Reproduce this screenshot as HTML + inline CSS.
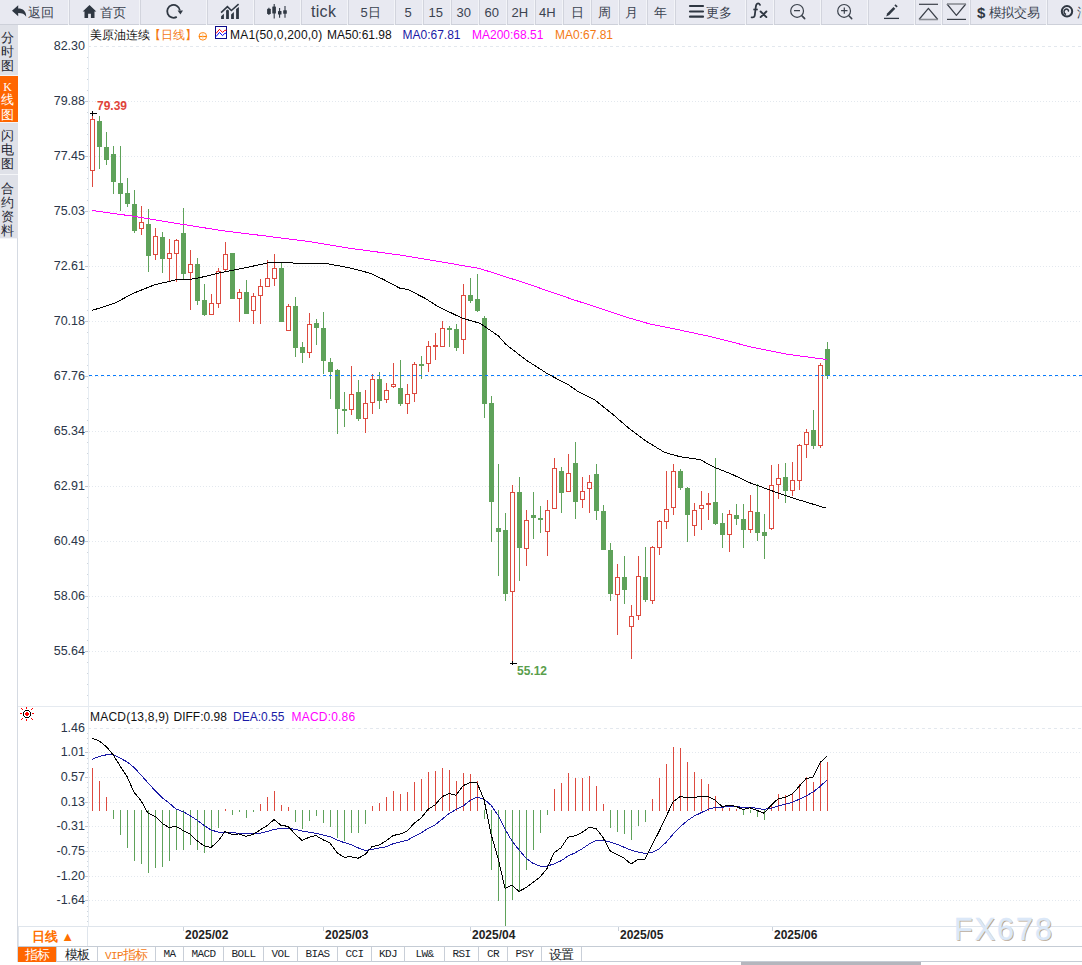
<!DOCTYPE html>
<html><head><meta charset="utf-8">
<style>
*{margin:0;padding:0;box-sizing:border-box}
html,body{width:1082px;height:965px;overflow:hidden;background:#fff;font-family:"Liberation Sans",sans-serif;font-size:12px;color:#222;position:relative}
#tb{position:absolute;left:0;top:0;width:1082px;height:25px}#tb span{position:absolute;top:4.5px;font-size:13px;line-height:15px;color:#3b4350;white-space:nowrap}
.b{position:absolute;top:0;height:24px;border-right:1px solid #d2d6de;box-shadow:1px 0 0 #f8f9fb;text-align:center;line-height:24px;font-size:13px;color:#3b4350;white-space:nowrap}
.b svg{vertical-align:middle}
#sb{position:absolute;left:0;top:25px;width:18px}
.s{width:18px;background:#dfe1e8;color:#1f2733;padding-right:3px;font-size:12.5px;line-height:14.3px;text-align:center;border-bottom:1px solid #f4f5f8}
#vl{position:absolute;left:17px;top:238px;width:1px;height:724px;background:#d5dae2}
svg#ch{position:absolute;left:0;top:0}
.ax{font-size:12.5px;fill:#2a3548}
.hl{font-size:12px;font-weight:bold}
.dt{font-size:12px;font-weight:bold;fill:#222}
.wm{font-size:30.5px;letter-spacing:2px}
.lg{font-size:12px}
#leg{position:absolute;left:90px;top:27px;height:16px;font-size:12px;line-height:16px;white-space:nowrap;color:#111}#leg span{position:absolute;top:0}
#tabs{position:absolute;left:18px;top:946px;width:1064px;height:16px;border-top:1px solid #c5ccd5;border-bottom:1px solid #c5ccd5}
.t{position:absolute;top:0;height:15px;border-right:1px solid #c9cfd8;text-align:center;font-family:"Liberation Mono",monospace;font-size:11px;line-height:15px;color:#1a1f2a;letter-spacing:-0.6px}
#dbx{position:absolute;left:18px;top:926px;width:70px;height:20px;border:1px solid #dfe5ec;border-bottom:none;color:#ff7000;font-weight:bold;font-size:13px;text-align:center;line-height:19px}
#scr{position:absolute;left:741px;top:962px;width:180px;height:3px;background:#b4b6bd}
</style></head><body>
<svg id="ch" width="1082" height="965" style="font-family:'Liberation Sans',sans-serif">
<line x1="88" y1="46.5" x2="1082" y2="46.5" stroke="#e3e8ee" stroke-dasharray="3 3"/>
<text x="85" y="50" class="ax" text-anchor="end">82.30</text>
<line x1="89" y1="101.5" x2="1082" y2="101.5" stroke="#e3e8ee" stroke-dasharray="1 2"/>
<rect x="85" y="101" width="3" height="1" fill="#c3c8d0"/>
<text x="85" y="105" class="ax" text-anchor="end">79.88</text>
<line x1="89" y1="156.5" x2="1082" y2="156.5" stroke="#e3e8ee" stroke-dasharray="1 2"/>
<rect x="85" y="156" width="3" height="1" fill="#c3c8d0"/>
<text x="85" y="160" class="ax" text-anchor="end">77.45</text>
<line x1="89" y1="211.5" x2="1082" y2="211.5" stroke="#e3e8ee" stroke-dasharray="1 2"/>
<rect x="85" y="211" width="3" height="1" fill="#c3c8d0"/>
<text x="85" y="215" class="ax" text-anchor="end">75.03</text>
<line x1="89" y1="266.5" x2="1082" y2="266.5" stroke="#e3e8ee" stroke-dasharray="1 2"/>
<rect x="85" y="266" width="3" height="1" fill="#c3c8d0"/>
<text x="85" y="270" class="ax" text-anchor="end">72.61</text>
<line x1="89" y1="321.5" x2="1082" y2="321.5" stroke="#e3e8ee" stroke-dasharray="1 2"/>
<rect x="85" y="321" width="3" height="1" fill="#c3c8d0"/>
<text x="85" y="325" class="ax" text-anchor="end">70.18</text>
<line x1="89" y1="376.5" x2="1082" y2="376.5" stroke="#e3e8ee" stroke-dasharray="1 2"/>
<rect x="85" y="376" width="3" height="1" fill="#c3c8d0"/>
<text x="85" y="380" class="ax" text-anchor="end">67.76</text>
<line x1="89" y1="431.5" x2="1082" y2="431.5" stroke="#e3e8ee" stroke-dasharray="1 2"/>
<rect x="85" y="431" width="3" height="1" fill="#c3c8d0"/>
<text x="85" y="435" class="ax" text-anchor="end">65.34</text>
<line x1="89" y1="486.5" x2="1082" y2="486.5" stroke="#e3e8ee" stroke-dasharray="1 2"/>
<rect x="85" y="486" width="3" height="1" fill="#c3c8d0"/>
<text x="85" y="490" class="ax" text-anchor="end">62.91</text>
<line x1="89" y1="541.5" x2="1082" y2="541.5" stroke="#e3e8ee" stroke-dasharray="1 2"/>
<rect x="85" y="541" width="3" height="1" fill="#c3c8d0"/>
<text x="85" y="545" class="ax" text-anchor="end">60.49</text>
<line x1="89" y1="596.5" x2="1082" y2="596.5" stroke="#e3e8ee" stroke-dasharray="1 2"/>
<rect x="85" y="596" width="3" height="1" fill="#c3c8d0"/>
<text x="85" y="600" class="ax" text-anchor="end">58.06</text>
<line x1="89" y1="651.5" x2="1082" y2="651.5" stroke="#e3e8ee" stroke-dasharray="1 2"/>
<rect x="85" y="651" width="3" height="1" fill="#c3c8d0"/>
<text x="85" y="655" class="ax" text-anchor="end">55.64</text>
<rect x="87" y="57" width="1" height="1" fill="#cfd5dc"/>
<rect x="87" y="68" width="1" height="1" fill="#cfd5dc"/>
<rect x="87" y="79" width="1" height="1" fill="#cfd5dc"/>
<rect x="87" y="90" width="1" height="1" fill="#cfd5dc"/>
<rect x="87" y="112" width="1" height="1" fill="#cfd5dc"/>
<rect x="87" y="123" width="1" height="1" fill="#cfd5dc"/>
<rect x="87" y="134" width="1" height="1" fill="#cfd5dc"/>
<rect x="87" y="145" width="1" height="1" fill="#cfd5dc"/>
<rect x="87" y="167" width="1" height="1" fill="#cfd5dc"/>
<rect x="87" y="178" width="1" height="1" fill="#cfd5dc"/>
<rect x="87" y="189" width="1" height="1" fill="#cfd5dc"/>
<rect x="87" y="200" width="1" height="1" fill="#cfd5dc"/>
<rect x="87" y="222" width="1" height="1" fill="#cfd5dc"/>
<rect x="87" y="233" width="1" height="1" fill="#cfd5dc"/>
<rect x="87" y="244" width="1" height="1" fill="#cfd5dc"/>
<rect x="87" y="255" width="1" height="1" fill="#cfd5dc"/>
<rect x="87" y="277" width="1" height="1" fill="#cfd5dc"/>
<rect x="87" y="288" width="1" height="1" fill="#cfd5dc"/>
<rect x="87" y="299" width="1" height="1" fill="#cfd5dc"/>
<rect x="87" y="310" width="1" height="1" fill="#cfd5dc"/>
<rect x="87" y="332" width="1" height="1" fill="#cfd5dc"/>
<rect x="87" y="343" width="1" height="1" fill="#cfd5dc"/>
<rect x="87" y="354" width="1" height="1" fill="#cfd5dc"/>
<rect x="87" y="365" width="1" height="1" fill="#cfd5dc"/>
<rect x="87" y="387" width="1" height="1" fill="#cfd5dc"/>
<rect x="87" y="398" width="1" height="1" fill="#cfd5dc"/>
<rect x="87" y="409" width="1" height="1" fill="#cfd5dc"/>
<rect x="87" y="420" width="1" height="1" fill="#cfd5dc"/>
<rect x="87" y="442" width="1" height="1" fill="#cfd5dc"/>
<rect x="87" y="453" width="1" height="1" fill="#cfd5dc"/>
<rect x="87" y="464" width="1" height="1" fill="#cfd5dc"/>
<rect x="87" y="475" width="1" height="1" fill="#cfd5dc"/>
<rect x="87" y="497" width="1" height="1" fill="#cfd5dc"/>
<rect x="87" y="508" width="1" height="1" fill="#cfd5dc"/>
<rect x="87" y="519" width="1" height="1" fill="#cfd5dc"/>
<rect x="87" y="530" width="1" height="1" fill="#cfd5dc"/>
<rect x="87" y="552" width="1" height="1" fill="#cfd5dc"/>
<rect x="87" y="563" width="1" height="1" fill="#cfd5dc"/>
<rect x="87" y="574" width="1" height="1" fill="#cfd5dc"/>
<rect x="87" y="585" width="1" height="1" fill="#cfd5dc"/>
<rect x="87" y="607" width="1" height="1" fill="#cfd5dc"/>
<rect x="87" y="618" width="1" height="1" fill="#cfd5dc"/>
<rect x="87" y="629" width="1" height="1" fill="#cfd5dc"/>
<rect x="87" y="640" width="1" height="1" fill="#cfd5dc"/>
<rect x="87" y="662" width="1" height="1" fill="#cfd5dc"/>
<rect x="87" y="673" width="1" height="1" fill="#cfd5dc"/>
<rect x="87" y="684" width="1" height="1" fill="#cfd5dc"/>
<rect x="87" y="695" width="1" height="1" fill="#cfd5dc"/>
<rect x="88" y="25" width="1" height="901" fill="#e6ecf2"/>
<line x1="88" y1="728.5" x2="1082" y2="728.5" stroke="#e3e8ee" stroke-dasharray="3 3"/>
<text x="85" y="732" class="ax" text-anchor="end">1.46</text>
<line x1="89" y1="752.5" x2="1082" y2="752.5" stroke="#e3e8ee" stroke-dasharray="1 2"/>
<rect x="85" y="752" width="3" height="1" fill="#c3c8d0"/>
<text x="85" y="756" class="ax" text-anchor="end">1.01</text>
<line x1="89" y1="777.5" x2="1082" y2="777.5" stroke="#e3e8ee" stroke-dasharray="1 2"/>
<rect x="85" y="777" width="3" height="1" fill="#c3c8d0"/>
<text x="85" y="781" class="ax" text-anchor="end">0.57</text>
<line x1="89" y1="802.5" x2="1082" y2="802.5" stroke="#e3e8ee" stroke-dasharray="1 2"/>
<rect x="85" y="802" width="3" height="1" fill="#c3c8d0"/>
<text x="85" y="806" class="ax" text-anchor="end">0.13</text>
<line x1="89" y1="826.5" x2="1082" y2="826.5" stroke="#e3e8ee" stroke-dasharray="1 2"/>
<rect x="85" y="826" width="3" height="1" fill="#c3c8d0"/>
<text x="85" y="830" class="ax" text-anchor="end">-0.31</text>
<line x1="89" y1="851.5" x2="1082" y2="851.5" stroke="#e3e8ee" stroke-dasharray="1 2"/>
<rect x="85" y="851" width="3" height="1" fill="#c3c8d0"/>
<text x="85" y="855" class="ax" text-anchor="end">-0.75</text>
<line x1="89" y1="876.5" x2="1082" y2="876.5" stroke="#e3e8ee" stroke-dasharray="1 2"/>
<rect x="85" y="876" width="3" height="1" fill="#c3c8d0"/>
<text x="85" y="880" class="ax" text-anchor="end">-1.20</text>
<line x1="89" y1="900.5" x2="1082" y2="900.5" stroke="#e3e8ee" stroke-dasharray="1 2"/>
<rect x="85" y="900" width="3" height="1" fill="#c3c8d0"/>
<text x="85" y="904" class="ax" text-anchor="end">-1.64</text>
<rect x="87" y="733" width="1" height="1" fill="#cfd5dc"/>
<rect x="87" y="738" width="1" height="1" fill="#cfd5dc"/>
<rect x="87" y="743" width="1" height="1" fill="#cfd5dc"/>
<rect x="87" y="748" width="1" height="1" fill="#cfd5dc"/>
<rect x="87" y="758" width="1" height="1" fill="#cfd5dc"/>
<rect x="87" y="763" width="1" height="1" fill="#cfd5dc"/>
<rect x="87" y="768" width="1" height="1" fill="#cfd5dc"/>
<rect x="87" y="772" width="1" height="1" fill="#cfd5dc"/>
<rect x="87" y="782" width="1" height="1" fill="#cfd5dc"/>
<rect x="87" y="787" width="1" height="1" fill="#cfd5dc"/>
<rect x="87" y="792" width="1" height="1" fill="#cfd5dc"/>
<rect x="87" y="797" width="1" height="1" fill="#cfd5dc"/>
<rect x="87" y="807" width="1" height="1" fill="#cfd5dc"/>
<rect x="87" y="812" width="1" height="1" fill="#cfd5dc"/>
<rect x="87" y="817" width="1" height="1" fill="#cfd5dc"/>
<rect x="87" y="822" width="1" height="1" fill="#cfd5dc"/>
<rect x="87" y="832" width="1" height="1" fill="#cfd5dc"/>
<rect x="87" y="837" width="1" height="1" fill="#cfd5dc"/>
<rect x="87" y="842" width="1" height="1" fill="#cfd5dc"/>
<rect x="87" y="847" width="1" height="1" fill="#cfd5dc"/>
<rect x="87" y="856" width="1" height="1" fill="#cfd5dc"/>
<rect x="87" y="861" width="1" height="1" fill="#cfd5dc"/>
<rect x="87" y="866" width="1" height="1" fill="#cfd5dc"/>
<rect x="87" y="871" width="1" height="1" fill="#cfd5dc"/>
<rect x="87" y="881" width="1" height="1" fill="#cfd5dc"/>
<rect x="87" y="886" width="1" height="1" fill="#cfd5dc"/>
<rect x="87" y="891" width="1" height="1" fill="#cfd5dc"/>
<rect x="87" y="896" width="1" height="1" fill="#cfd5dc"/>
<rect x="87" y="906" width="1" height="1" fill="#cfd5dc"/>
<rect x="87" y="911" width="1" height="1" fill="#cfd5dc"/>
<rect x="87" y="916" width="1" height="1" fill="#cfd5dc"/>
<rect x="87" y="921" width="1" height="1" fill="#cfd5dc"/>
<rect x="18" y="706" width="1064" height="1" fill="#e5eaf0"/>
<rect x="18" y="926" width="1064" height="1" fill="#dfe5ec"/>
<g shape-rendering="crispEdges"><rect x="92" y="113" width="1" height="6" fill="#dd4a3f"/><rect x="92" y="171" width="1" height="16" fill="#dd4a3f"/><rect x="90.5" y="119.5" width="4" height="51" fill="#fff" stroke="#dd4a3f"/><rect x="99" y="116" width="1" height="53" fill="#5fa25a"/><rect x="97" y="121" width="5" height="26" fill="#5fa25a"/><rect x="106" y="132" width="1" height="33" fill="#5fa25a"/><rect x="104" y="147" width="5" height="13" fill="#5fa25a"/><rect x="113" y="146" width="1" height="48" fill="#5fa25a"/><rect x="111" y="154" width="5" height="28" fill="#5fa25a"/><rect x="120" y="146" width="1" height="65" fill="#5fa25a"/><rect x="118" y="183" width="5" height="11" fill="#5fa25a"/><rect x="127" y="178" width="1" height="29" fill="#5fa25a"/><rect x="125" y="193" width="5" height="11" fill="#5fa25a"/><rect x="134" y="190" width="1" height="43" fill="#5fa25a"/><rect x="132" y="204" width="5" height="27" fill="#5fa25a"/><rect x="141" y="206" width="1" height="16" fill="#dd4a3f"/><rect x="141" y="229" width="1" height="6" fill="#dd4a3f"/><rect x="139.5" y="222.5" width="4" height="6" fill="#fff" stroke="#dd4a3f"/><rect x="148" y="209" width="1" height="63" fill="#5fa25a"/><rect x="146" y="224" width="5" height="32" fill="#5fa25a"/><rect x="155" y="228" width="1" height="8" fill="#dd4a3f"/><rect x="155" y="255" width="1" height="5" fill="#dd4a3f"/><rect x="153.5" y="236.5" width="4" height="18" fill="#fff" stroke="#dd4a3f"/><rect x="162" y="232" width="1" height="41" fill="#5fa25a"/><rect x="160" y="237" width="5" height="22" fill="#5fa25a"/><rect x="169" y="239" width="1" height="14" fill="#dd4a3f"/><rect x="169" y="259" width="1" height="22" fill="#dd4a3f"/><rect x="167.5" y="253.5" width="4" height="5" fill="#fff" stroke="#dd4a3f"/><rect x="176" y="239" width="1" height="1" fill="#dd4a3f"/><rect x="176" y="254" width="1" height="28" fill="#dd4a3f"/><rect x="174.5" y="240.5" width="4" height="13" fill="#fff" stroke="#dd4a3f"/><rect x="183" y="208" width="1" height="71" fill="#5fa25a"/><rect x="181" y="233" width="5" height="41" fill="#5fa25a"/><rect x="190" y="250" width="1" height="14" fill="#dd4a3f"/><rect x="190" y="273" width="1" height="37" fill="#dd4a3f"/><rect x="188.5" y="264.5" width="4" height="8" fill="#fff" stroke="#dd4a3f"/><rect x="197" y="258" width="1" height="47" fill="#5fa25a"/><rect x="195" y="264" width="5" height="37" fill="#5fa25a"/><rect x="204" y="284" width="1" height="32" fill="#5fa25a"/><rect x="202" y="300" width="5" height="15" fill="#5fa25a"/><rect x="211" y="294" width="1" height="9" fill="#dd4a3f"/><rect x="209.5" y="303.5" width="4" height="11" fill="#fff" stroke="#dd4a3f"/><rect x="218" y="268" width="1" height="3" fill="#dd4a3f"/><rect x="218" y="304" width="1" height="4" fill="#dd4a3f"/><rect x="216.5" y="271.5" width="4" height="32" fill="#fff" stroke="#dd4a3f"/><rect x="225" y="242" width="1" height="12" fill="#dd4a3f"/><rect x="225" y="270" width="1" height="2" fill="#dd4a3f"/><rect x="223.5" y="254.5" width="4" height="15" fill="#fff" stroke="#dd4a3f"/><rect x="232" y="253" width="1" height="46" fill="#5fa25a"/><rect x="230" y="253" width="5" height="46" fill="#5fa25a"/><rect x="239" y="289" width="1" height="3" fill="#dd4a3f"/><rect x="239" y="299" width="1" height="23" fill="#dd4a3f"/><rect x="237.5" y="292.5" width="4" height="6" fill="#fff" stroke="#dd4a3f"/><rect x="246" y="280" width="1" height="34" fill="#5fa25a"/><rect x="244" y="292" width="5" height="22" fill="#5fa25a"/><rect x="253" y="293" width="1" height="3" fill="#dd4a3f"/><rect x="253" y="311" width="1" height="13" fill="#dd4a3f"/><rect x="251.5" y="296.5" width="4" height="14" fill="#fff" stroke="#dd4a3f"/><rect x="260" y="279" width="1" height="7" fill="#dd4a3f"/><rect x="260" y="296" width="1" height="28" fill="#dd4a3f"/><rect x="258.5" y="286.5" width="4" height="9" fill="#fff" stroke="#dd4a3f"/><rect x="267" y="260" width="1" height="18" fill="#dd4a3f"/><rect x="265.5" y="278.5" width="4" height="8" fill="#fff" stroke="#dd4a3f"/><rect x="274" y="254" width="1" height="14" fill="#dd4a3f"/><rect x="274" y="279" width="1" height="7" fill="#dd4a3f"/><rect x="272.5" y="268.5" width="4" height="10" fill="#fff" stroke="#dd4a3f"/><rect x="281" y="263" width="1" height="59" fill="#5fa25a"/><rect x="279" y="268" width="5" height="54" fill="#5fa25a"/><rect x="288" y="304" width="1" height="2" fill="#dd4a3f"/><rect x="286.5" y="306.5" width="4" height="24" fill="#fff" stroke="#dd4a3f"/><rect x="295" y="297" width="1" height="60" fill="#5fa25a"/><rect x="293" y="306" width="5" height="42" fill="#5fa25a"/><rect x="302" y="342" width="1" height="21" fill="#5fa25a"/><rect x="300" y="347" width="5" height="6" fill="#5fa25a"/><rect x="309" y="313" width="1" height="11" fill="#dd4a3f"/><rect x="309" y="353" width="1" height="5" fill="#dd4a3f"/><rect x="307.5" y="324.5" width="4" height="28" fill="#fff" stroke="#dd4a3f"/><rect x="316" y="319" width="1" height="26" fill="#5fa25a"/><rect x="314" y="323" width="5" height="5" fill="#5fa25a"/><rect x="323" y="312" width="1" height="62" fill="#5fa25a"/><rect x="321" y="328" width="5" height="33" fill="#5fa25a"/><rect x="330" y="358" width="1" height="41" fill="#5fa25a"/><rect x="328" y="362" width="5" height="10" fill="#5fa25a"/><rect x="337" y="369" width="1" height="65" fill="#5fa25a"/><rect x="335" y="370" width="5" height="39" fill="#5fa25a"/><rect x="344" y="392" width="1" height="35" fill="#5fa25a"/><rect x="342" y="409" width="5" height="2" fill="#5fa25a"/><rect x="351" y="366" width="1" height="28" fill="#dd4a3f"/><rect x="351" y="410" width="1" height="5" fill="#dd4a3f"/><rect x="349.5" y="394.5" width="4" height="15" fill="#fff" stroke="#dd4a3f"/><rect x="358" y="380" width="1" height="41" fill="#5fa25a"/><rect x="356" y="392" width="5" height="27" fill="#5fa25a"/><rect x="365" y="390" width="1" height="13" fill="#dd4a3f"/><rect x="365" y="419" width="1" height="14" fill="#dd4a3f"/><rect x="363.5" y="403.5" width="4" height="15" fill="#fff" stroke="#dd4a3f"/><rect x="372" y="374" width="1" height="5" fill="#dd4a3f"/><rect x="372" y="403" width="1" height="11" fill="#dd4a3f"/><rect x="370.5" y="379.5" width="4" height="23" fill="#fff" stroke="#dd4a3f"/><rect x="379" y="372" width="1" height="37" fill="#5fa25a"/><rect x="377" y="379" width="5" height="22" fill="#5fa25a"/><rect x="386" y="383" width="1" height="7" fill="#dd4a3f"/><rect x="386" y="400" width="1" height="3" fill="#dd4a3f"/><rect x="384.5" y="390.5" width="4" height="9" fill="#fff" stroke="#dd4a3f"/><rect x="393" y="363" width="1" height="21" fill="#dd4a3f"/><rect x="393" y="387" width="1" height="1" fill="#dd4a3f"/><rect x="391.5" y="384.5" width="4" height="2" fill="#fff" stroke="#dd4a3f"/><rect x="400" y="360" width="1" height="46" fill="#5fa25a"/><rect x="398" y="388" width="5" height="16" fill="#5fa25a"/><rect x="407" y="384" width="1" height="10" fill="#dd4a3f"/><rect x="407" y="404" width="1" height="10" fill="#dd4a3f"/><rect x="405.5" y="394.5" width="4" height="9" fill="#fff" stroke="#dd4a3f"/><rect x="414" y="362" width="1" height="2" fill="#dd4a3f"/><rect x="414" y="394" width="1" height="8" fill="#dd4a3f"/><rect x="412.5" y="364.5" width="4" height="29" fill="#fff" stroke="#dd4a3f"/><rect x="421" y="356" width="1" height="23" fill="#5fa25a"/><rect x="419" y="364" width="5" height="2" fill="#5fa25a"/><rect x="428" y="341" width="1" height="5" fill="#dd4a3f"/><rect x="428" y="364" width="1" height="8" fill="#dd4a3f"/><rect x="426.5" y="346.5" width="4" height="17" fill="#fff" stroke="#dd4a3f"/><rect x="435" y="333" width="1" height="12" fill="#dd4a3f"/><rect x="435" y="346" width="1" height="14" fill="#dd4a3f"/><rect x="433.5" y="345.5" width="4" height="1" fill="#fff" stroke="#dd4a3f"/><rect x="442" y="321" width="1" height="7" fill="#dd4a3f"/><rect x="440.5" y="328.5" width="4" height="18" fill="#fff" stroke="#dd4a3f"/><rect x="449" y="326" width="1" height="21" fill="#5fa25a"/><rect x="447" y="328" width="5" height="2" fill="#5fa25a"/><rect x="456" y="324" width="1" height="27" fill="#5fa25a"/><rect x="454" y="329" width="5" height="19" fill="#5fa25a"/><rect x="463" y="284" width="1" height="11" fill="#dd4a3f"/><rect x="463" y="340" width="1" height="14" fill="#dd4a3f"/><rect x="461.5" y="295.5" width="4" height="44" fill="#fff" stroke="#dd4a3f"/><rect x="470" y="278" width="1" height="25" fill="#5fa25a"/><rect x="468" y="295" width="5" height="6" fill="#5fa25a"/><rect x="477" y="274" width="1" height="38" fill="#5fa25a"/><rect x="475" y="299" width="5" height="12" fill="#5fa25a"/><rect x="484" y="316" width="1" height="102" fill="#5fa25a"/><rect x="482" y="318" width="5" height="86" fill="#5fa25a"/><rect x="491" y="396" width="1" height="146" fill="#5fa25a"/><rect x="489" y="403" width="5" height="99" fill="#5fa25a"/><rect x="498" y="464" width="1" height="112" fill="#5fa25a"/><rect x="496" y="528" width="5" height="4" fill="#5fa25a"/><rect x="505" y="513" width="1" height="88" fill="#5fa25a"/><rect x="503" y="530" width="5" height="64" fill="#5fa25a"/><rect x="512" y="485" width="1" height="7" fill="#dd4a3f"/><rect x="512" y="592" width="1" height="72" fill="#dd4a3f"/><rect x="510.5" y="492.5" width="4" height="99" fill="#fff" stroke="#dd4a3f"/><rect x="519" y="477" width="1" height="104" fill="#5fa25a"/><rect x="517" y="492" width="5" height="56" fill="#5fa25a"/><rect x="526" y="510" width="1" height="10" fill="#dd4a3f"/><rect x="526" y="549" width="1" height="17" fill="#dd4a3f"/><rect x="524.5" y="520.5" width="4" height="28" fill="#fff" stroke="#dd4a3f"/><rect x="533" y="492" width="1" height="47" fill="#5fa25a"/><rect x="531" y="515" width="5" height="3" fill="#5fa25a"/><rect x="540" y="506" width="1" height="27" fill="#5fa25a"/><rect x="538" y="518" width="5" height="2" fill="#5fa25a"/><rect x="547" y="500" width="1" height="10" fill="#dd4a3f"/><rect x="547" y="532" width="1" height="24" fill="#dd4a3f"/><rect x="545.5" y="510.5" width="4" height="21" fill="#fff" stroke="#dd4a3f"/><rect x="554" y="458" width="1" height="10" fill="#dd4a3f"/><rect x="552.5" y="468.5" width="4" height="40" fill="#fff" stroke="#dd4a3f"/><rect x="561" y="467" width="1" height="46" fill="#5fa25a"/><rect x="559" y="471" width="5" height="22" fill="#5fa25a"/><rect x="568" y="454" width="1" height="19" fill="#dd4a3f"/><rect x="566.5" y="473.5" width="4" height="18" fill="#fff" stroke="#dd4a3f"/><rect x="575" y="442" width="1" height="77" fill="#5fa25a"/><rect x="573" y="463" width="5" height="39" fill="#5fa25a"/><rect x="582" y="477" width="1" height="14" fill="#dd4a3f"/><rect x="582" y="500" width="1" height="8" fill="#dd4a3f"/><rect x="580.5" y="491.5" width="4" height="8" fill="#fff" stroke="#dd4a3f"/><rect x="589" y="475" width="1" height="7" fill="#dd4a3f"/><rect x="589" y="489" width="1" height="24" fill="#dd4a3f"/><rect x="587.5" y="482.5" width="4" height="6" fill="#fff" stroke="#dd4a3f"/><rect x="596" y="464" width="1" height="56" fill="#5fa25a"/><rect x="594" y="474" width="5" height="37" fill="#5fa25a"/><rect x="603" y="505" width="1" height="45" fill="#5fa25a"/><rect x="601" y="511" width="5" height="39" fill="#5fa25a"/><rect x="610" y="543" width="1" height="58" fill="#5fa25a"/><rect x="608" y="550" width="5" height="44" fill="#5fa25a"/><rect x="617" y="564" width="1" height="13" fill="#dd4a3f"/><rect x="617" y="595" width="1" height="40" fill="#dd4a3f"/><rect x="615.5" y="577.5" width="4" height="17" fill="#fff" stroke="#dd4a3f"/><rect x="624" y="556" width="1" height="48" fill="#5fa25a"/><rect x="622" y="577" width="5" height="13" fill="#5fa25a"/><rect x="631" y="605" width="1" height="11" fill="#dd4a3f"/><rect x="631" y="627" width="1" height="32" fill="#dd4a3f"/><rect x="629.5" y="616.5" width="4" height="10" fill="#fff" stroke="#dd4a3f"/><rect x="638" y="556" width="1" height="20" fill="#dd4a3f"/><rect x="638" y="616" width="1" height="4" fill="#dd4a3f"/><rect x="636.5" y="576.5" width="4" height="39" fill="#fff" stroke="#dd4a3f"/><rect x="645" y="547" width="1" height="55" fill="#5fa25a"/><rect x="643" y="577" width="5" height="23" fill="#5fa25a"/><rect x="652" y="546" width="1" height="1" fill="#dd4a3f"/><rect x="652" y="601" width="1" height="3" fill="#dd4a3f"/><rect x="650.5" y="547.5" width="4" height="53" fill="#fff" stroke="#dd4a3f"/><rect x="659" y="520" width="1" height="1" fill="#dd4a3f"/><rect x="659" y="548" width="1" height="7" fill="#dd4a3f"/><rect x="657.5" y="521.5" width="4" height="26" fill="#fff" stroke="#dd4a3f"/><rect x="666" y="471" width="1" height="38" fill="#dd4a3f"/><rect x="666" y="522" width="1" height="7" fill="#dd4a3f"/><rect x="664.5" y="509.5" width="4" height="12" fill="#fff" stroke="#dd4a3f"/><rect x="673" y="464" width="1" height="7" fill="#dd4a3f"/><rect x="673" y="508" width="1" height="7" fill="#dd4a3f"/><rect x="671.5" y="471.5" width="4" height="36" fill="#fff" stroke="#dd4a3f"/><rect x="680" y="469" width="1" height="21" fill="#5fa25a"/><rect x="678" y="471" width="5" height="17" fill="#5fa25a"/><rect x="687" y="487" width="1" height="55" fill="#5fa25a"/><rect x="685" y="488" width="5" height="27" fill="#5fa25a"/><rect x="694" y="503" width="1" height="7" fill="#dd4a3f"/><rect x="694" y="526" width="1" height="10" fill="#dd4a3f"/><rect x="692.5" y="510.5" width="4" height="15" fill="#fff" stroke="#dd4a3f"/><rect x="701" y="491" width="1" height="14" fill="#dd4a3f"/><rect x="701" y="509" width="1" height="21" fill="#dd4a3f"/><rect x="699.5" y="505.5" width="4" height="3" fill="#fff" stroke="#dd4a3f"/><rect x="708" y="493" width="1" height="10" fill="#dd4a3f"/><rect x="708" y="505" width="1" height="15" fill="#dd4a3f"/><rect x="706.5" y="503.5" width="4" height="1" fill="#fff" stroke="#dd4a3f"/><rect x="715" y="458" width="1" height="67" fill="#5fa25a"/><rect x="713" y="502" width="5" height="22" fill="#5fa25a"/><rect x="722" y="513" width="1" height="35" fill="#5fa25a"/><rect x="720" y="523" width="5" height="12" fill="#5fa25a"/><rect x="729" y="510" width="1" height="4" fill="#dd4a3f"/><rect x="729" y="535" width="1" height="17" fill="#dd4a3f"/><rect x="727.5" y="514.5" width="4" height="20" fill="#fff" stroke="#dd4a3f"/><rect x="736" y="504" width="1" height="21" fill="#5fa25a"/><rect x="734" y="515" width="5" height="4" fill="#5fa25a"/><rect x="743" y="504" width="1" height="44" fill="#5fa25a"/><rect x="741" y="519" width="5" height="11" fill="#5fa25a"/><rect x="750" y="495" width="1" height="16" fill="#dd4a3f"/><rect x="750" y="530" width="1" height="3" fill="#dd4a3f"/><rect x="748.5" y="511.5" width="4" height="18" fill="#fff" stroke="#dd4a3f"/><rect x="757" y="484" width="1" height="57" fill="#5fa25a"/><rect x="755" y="512" width="5" height="21" fill="#5fa25a"/><rect x="764" y="514" width="1" height="45" fill="#5fa25a"/><rect x="762" y="532" width="5" height="4" fill="#5fa25a"/><rect x="771" y="465" width="1" height="20" fill="#dd4a3f"/><rect x="771" y="529" width="1" height="1" fill="#dd4a3f"/><rect x="769.5" y="485.5" width="4" height="43" fill="#fff" stroke="#dd4a3f"/><rect x="778" y="464" width="1" height="14" fill="#dd4a3f"/><rect x="778" y="485" width="1" height="14" fill="#dd4a3f"/><rect x="776.5" y="478.5" width="4" height="6" fill="#fff" stroke="#dd4a3f"/><rect x="785" y="463" width="1" height="40" fill="#5fa25a"/><rect x="783" y="477" width="5" height="14" fill="#5fa25a"/><rect x="792" y="462" width="1" height="18" fill="#dd4a3f"/><rect x="792" y="491" width="1" height="5" fill="#dd4a3f"/><rect x="790.5" y="480.5" width="4" height="10" fill="#fff" stroke="#dd4a3f"/><rect x="799" y="444" width="1" height="1" fill="#dd4a3f"/><rect x="799" y="481" width="1" height="9" fill="#dd4a3f"/><rect x="797.5" y="445.5" width="4" height="35" fill="#fff" stroke="#dd4a3f"/><rect x="806" y="429" width="1" height="3" fill="#dd4a3f"/><rect x="806" y="445" width="1" height="13" fill="#dd4a3f"/><rect x="804.5" y="432.5" width="4" height="12" fill="#fff" stroke="#dd4a3f"/><rect x="813" y="410" width="1" height="39" fill="#5fa25a"/><rect x="811" y="430" width="5" height="16" fill="#5fa25a"/><rect x="820" y="363" width="1" height="2" fill="#dd4a3f"/><rect x="820" y="446" width="1" height="2" fill="#dd4a3f"/><rect x="818.5" y="365.5" width="4" height="80" fill="#fff" stroke="#dd4a3f"/><rect x="827" y="342" width="1" height="37" fill="#5fa25a"/><rect x="825" y="349" width="5" height="27" fill="#5fa25a"/></g>
<line x1="89" y1="375.5" x2="1082" y2="375.5" stroke="#0a7cfc" stroke-dasharray="3 3"/>
<polyline points="92.0,210.5 132.4,216.1 176.7,223.4 221.1,230.5 265.5,236.0 309.8,241.6 349.9,248.3 399.8,255.0 449.7,263.3 480.0,268.6 525.0,283.0 574.3,300.0 600.1,308.3 627.9,317.6 650.0,324.0 677.0,329.4 714.0,337.4 751.0,347.0 788.0,354.4 826.7,359.5" fill="none" stroke="#ff00ff" stroke-width="1" shape-rendering="crispEdges"/>
<polyline points="92.0,310.4 114.6,303.3 132.4,293.7 154.5,284.8 176.7,279.7 194.5,278.9 221.1,272.6 243.3,268.2 272.1,262.0 298.7,263.3 326.6,263.6 349.9,267.9 371.5,273.6 385.0,280.3 399.8,288.2 408.1,289.6 424.8,298.2 438.0,306.5 462.2,318.2 480.0,323.3 498.5,336.0 505.9,344.4 526.2,360.1 548.4,374.3 568.7,385.0 578.0,391.5 594.6,399.8 613.1,414.6 627.9,427.5 646.4,441.4 664.8,452.5 680.0,456.7 700.0,459.6 715.0,467.6 730.0,473.4 750.0,482.8 780.0,493.7 800.0,500.2 826.0,508.1" fill="none" stroke="#000" stroke-width="1" shape-rendering="crispEdges"/>
<g shape-rendering="crispEdges"><rect x="215.5" y="26.5" width="11" height="12" fill="#fff" stroke="#0a0a8a"/></g>
<path d="M216 33.5 219.5 29.3 222.5 32.4 224.9 30.3H226.5" fill="none" stroke="#f00" stroke-width="1"/>
<path d="M216 36.6 219.5 32.4 222.5 35.6 224.9 33.3H226.5" fill="none" stroke="#00f" stroke-width="1"/>
<circle cx="202.8" cy="36.3" r="3.8" fill="none" stroke="#ff8a1a" stroke-width="1"/><path d="M199 36.5h7.6" stroke="#ff8000" stroke-width="1.2"/><path d="M202.8 32.5v7.6" stroke="#ffc080" stroke-width="0.8"/>
<text x="97" y="109.5" class="hl" fill="#e0433a">79.39</text>
<rect x="90" y="113" width="7" height="1" fill="#000"/><rect x="92" y="111" width="1" height="5" fill="#000"/>
<text x="517" y="674.5" class="hl" fill="#5a9e4c">55.12</text>
<rect x="510" y="663" width="7" height="1" fill="#000"/><rect x="512" y="661" width="1" height="4" fill="#000"/>
<g shape-rendering="crispEdges"><rect x="92" y="768" width="1" height="43" fill="#dd4a3f"/><rect x="99" y="781" width="1" height="30" fill="#dd4a3f"/><rect x="106" y="797" width="1" height="14" fill="#dd4a3f"/><rect x="113" y="810" width="1" height="9" fill="#5fa25a"/><rect x="120" y="810" width="1" height="25" fill="#5fa25a"/><rect x="127" y="810" width="1" height="38" fill="#5fa25a"/><rect x="134" y="810" width="1" height="51" fill="#5fa25a"/><rect x="141" y="810" width="1" height="54" fill="#5fa25a"/><rect x="148" y="810" width="1" height="63" fill="#5fa25a"/><rect x="155" y="810" width="1" height="58" fill="#5fa25a"/><rect x="162" y="810" width="1" height="57" fill="#5fa25a"/><rect x="169" y="810" width="1" height="51" fill="#5fa25a"/><rect x="176" y="810" width="1" height="40" fill="#5fa25a"/><rect x="183" y="810" width="1" height="40" fill="#5fa25a"/><rect x="190" y="810" width="1" height="35" fill="#5fa25a"/><rect x="197" y="810" width="1" height="40" fill="#5fa25a"/><rect x="204" y="810" width="1" height="43" fill="#5fa25a"/><rect x="211" y="810" width="1" height="36" fill="#5fa25a"/><rect x="218" y="810" width="1" height="18" fill="#5fa25a"/><rect x="225" y="809" width="1" height="2" fill="#dd4a3f"/><rect x="232" y="810" width="1" height="5" fill="#5fa25a"/><rect x="239" y="810" width="1" height="2" fill="#5fa25a"/><rect x="246" y="810" width="1" height="8" fill="#5fa25a"/><rect x="253" y="810" width="1" height="2" fill="#5fa25a"/><rect x="260" y="804" width="1" height="7" fill="#dd4a3f"/><rect x="267" y="797" width="1" height="14" fill="#dd4a3f"/><rect x="274" y="791" width="1" height="20" fill="#dd4a3f"/><rect x="281" y="805" width="1" height="6" fill="#dd4a3f"/><rect x="288" y="807" width="1" height="4" fill="#dd4a3f"/><rect x="295" y="810" width="1" height="12" fill="#5fa25a"/><rect x="302" y="810" width="1" height="19" fill="#5fa25a"/><rect x="309" y="810" width="1" height="11" fill="#5fa25a"/><rect x="316" y="810" width="1" height="6" fill="#5fa25a"/><rect x="323" y="810" width="1" height="13" fill="#5fa25a"/><rect x="330" y="810" width="1" height="17" fill="#5fa25a"/><rect x="337" y="810" width="1" height="28" fill="#5fa25a"/><rect x="344" y="810" width="1" height="31" fill="#5fa25a"/><rect x="351" y="810" width="1" height="23" fill="#5fa25a"/><rect x="358" y="810" width="1" height="23" fill="#5fa25a"/><rect x="365" y="810" width="1" height="14" fill="#5fa25a"/><rect x="372" y="806" width="1" height="5" fill="#dd4a3f"/><rect x="379" y="803" width="1" height="8" fill="#dd4a3f"/><rect x="386" y="797" width="1" height="14" fill="#dd4a3f"/><rect x="393" y="791" width="1" height="20" fill="#dd4a3f"/><rect x="400" y="794" width="1" height="17" fill="#dd4a3f"/><rect x="407" y="792" width="1" height="19" fill="#dd4a3f"/><rect x="414" y="782" width="1" height="29" fill="#dd4a3f"/><rect x="421" y="779" width="1" height="32" fill="#dd4a3f"/><rect x="428" y="772" width="1" height="39" fill="#dd4a3f"/><rect x="435" y="771" width="1" height="40" fill="#dd4a3f"/><rect x="442" y="768" width="1" height="43" fill="#dd4a3f"/><rect x="449" y="770" width="1" height="41" fill="#dd4a3f"/><rect x="456" y="781" width="1" height="30" fill="#dd4a3f"/><rect x="463" y="773" width="1" height="38" fill="#dd4a3f"/><rect x="470" y="774" width="1" height="37" fill="#dd4a3f"/><rect x="477" y="781" width="1" height="30" fill="#dd4a3f"/><rect x="484" y="810" width="1" height="9" fill="#5fa25a"/><rect x="491" y="810" width="1" height="60" fill="#5fa25a"/><rect x="498" y="810" width="1" height="91" fill="#5fa25a"/><rect x="505" y="810" width="1" height="116" fill="#5fa25a"/><rect x="512" y="810" width="1" height="90" fill="#5fa25a"/><rect x="519" y="810" width="1" height="81" fill="#5fa25a"/><rect x="526" y="810" width="1" height="60" fill="#5fa25a"/><rect x="533" y="810" width="1" height="40" fill="#5fa25a"/><rect x="540" y="810" width="1" height="23" fill="#5fa25a"/><rect x="547" y="810" width="1" height="5" fill="#5fa25a"/><rect x="554" y="789" width="1" height="22" fill="#dd4a3f"/><rect x="561" y="783" width="1" height="28" fill="#dd4a3f"/><rect x="568" y="773" width="1" height="38" fill="#dd4a3f"/><rect x="575" y="778" width="1" height="33" fill="#dd4a3f"/><rect x="582" y="778" width="1" height="33" fill="#dd4a3f"/><rect x="589" y="776" width="1" height="35" fill="#dd4a3f"/><rect x="596" y="786" width="1" height="25" fill="#dd4a3f"/><rect x="603" y="804" width="1" height="7" fill="#dd4a3f"/><rect x="610" y="810" width="1" height="18" fill="#5fa25a"/><rect x="617" y="810" width="1" height="22" fill="#5fa25a"/><rect x="624" y="810" width="1" height="24" fill="#5fa25a"/><rect x="631" y="810" width="1" height="30" fill="#5fa25a"/><rect x="638" y="810" width="1" height="16" fill="#5fa25a"/><rect x="645" y="810" width="1" height="12" fill="#5fa25a"/><rect x="652" y="799" width="1" height="12" fill="#dd4a3f"/><rect x="659" y="778" width="1" height="33" fill="#dd4a3f"/><rect x="666" y="764" width="1" height="47" fill="#dd4a3f"/><rect x="673" y="747" width="1" height="64" fill="#dd4a3f"/><rect x="680" y="748" width="1" height="63" fill="#dd4a3f"/><rect x="687" y="762" width="1" height="49" fill="#dd4a3f"/><rect x="694" y="772" width="1" height="39" fill="#dd4a3f"/><rect x="701" y="779" width="1" height="32" fill="#dd4a3f"/><rect x="708" y="784" width="1" height="27" fill="#dd4a3f"/><rect x="715" y="796" width="1" height="15" fill="#dd4a3f"/><rect x="722" y="807" width="1" height="4" fill="#dd4a3f"/><rect x="729" y="808" width="1" height="3" fill="#dd4a3f"/><rect x="736" y="809" width="1" height="2" fill="#dd4a3f"/><rect x="743" y="810" width="1" height="5" fill="#5fa25a"/><rect x="750" y="810" width="1" height="3" fill="#5fa25a"/><rect x="757" y="810" width="1" height="7" fill="#5fa25a"/><rect x="764" y="810" width="1" height="10" fill="#5fa25a"/><rect x="771" y="804" width="1" height="7" fill="#dd4a3f"/><rect x="778" y="794" width="1" height="17" fill="#dd4a3f"/><rect x="785" y="795" width="1" height="16" fill="#dd4a3f"/><rect x="792" y="794" width="1" height="17" fill="#dd4a3f"/><rect x="799" y="784" width="1" height="27" fill="#dd4a3f"/><rect x="806" y="777" width="1" height="34" fill="#dd4a3f"/><rect x="813" y="782" width="1" height="29" fill="#dd4a3f"/><rect x="820" y="763" width="1" height="48" fill="#dd4a3f"/><rect x="827" y="762" width="1" height="49" fill="#dd4a3f"/></g>
<polyline points="92.0,759.5 99.0,756.4 106.0,754.9 113.0,754.4 120.0,758.0 127.0,761.9 134.0,767.3 141.0,775.0 148.0,782.9 155.0,790.6 162.0,797.6 169.0,803.0 176.0,809.0 183.0,811.6 190.0,815.6 197.0,820.2 204.0,825.3 211.0,829.9 218.0,832.1 225.0,832.1 232.0,832.7 239.0,833.3 246.0,833.3 253.0,833.3 260.0,833.3 267.0,831.6 274.0,829.5 281.0,828.4 288.0,828.4 295.0,829.3 302.0,831.0 309.0,832.1 316.0,833.3 323.0,835.0 330.0,836.7 337.0,840.1 344.0,842.5 351.0,844.6 358.0,847.8 365.0,850.3 372.0,849.5 379.0,848.0 386.0,846.9 393.0,843.8 400.0,841.9 407.0,840.4 414.0,836.4 421.0,833.0 428.0,828.3 435.0,825.0 442.0,819.3 449.0,813.6 456.0,809.6 463.0,806.2 470.0,800.5 477.0,797.1 484.0,799.0 491.0,805.2 498.0,815.3 505.0,829.2 512.0,841.0 519.0,849.9 526.0,858.0 533.0,863.3 540.0,866.0 547.0,866.0 554.0,864.0 561.0,860.8 568.0,856.1 575.0,852.9 582.0,848.9 589.0,844.2 596.0,840.4 603.0,840.4 610.0,842.1 617.0,844.2 624.0,847.2 631.0,850.1 638.0,852.0 645.0,853.5 652.0,852.5 659.0,848.9 666.0,842.4 673.0,834.3 680.0,826.9 687.0,820.9 694.0,816.1 701.0,812.8 708.0,809.4 715.0,807.4 722.0,807.2 729.0,806.5 736.0,806.5 743.0,807.4 750.0,807.1 757.0,808.5 764.0,809.3 771.0,808.2 778.0,806.0 785.0,804.3 792.0,802.6 799.0,799.3 806.0,796.0 813.0,792.1 820.0,786.6 827.0,779.9" fill="none" stroke="#1a1aa6" stroke-width="1" shape-rendering="crispEdges"/>
<polyline points="92.0,738.1 99.0,740.9 106.0,746.3 113.0,754.5 120.0,765.8 127.0,776.6 134.0,792.2 141.0,800.7 148.0,813.2 155.0,816.3 162.0,823.3 169.0,827.6 176.0,826.2 183.0,830.4 190.0,833.9 197.0,840.7 204.0,845.8 211.0,847.5 218.0,841.3 225.0,831.6 232.0,834.4 239.0,833.9 246.0,836.4 253.0,834.4 260.0,830.0 267.0,825.6 274.0,819.6 281.0,825.3 288.0,826.4 295.0,833.9 302.0,840.5 309.0,837.3 316.0,835.6 323.0,839.8 330.0,843.0 337.0,852.7 344.0,857.2 351.0,856.7 358.0,858.3 365.0,854.6 372.0,846.7 379.0,845.0 386.0,841.0 393.0,835.5 400.0,834.1 407.0,831.3 414.0,823.3 421.0,818.2 428.0,809.3 435.0,805.0 442.0,796.7 449.0,793.6 456.0,795.3 463.0,785.7 470.0,782.6 477.0,782.6 484.0,799.5 491.0,834.0 498.0,858.0 505.0,888.3 512.0,885.2 519.0,891.4 526.0,887.6 533.0,882.5 540.0,877.1 547.0,868.5 554.0,852.8 561.0,847.8 568.0,837.3 575.0,835.8 582.0,832.4 589.0,827.5 596.0,828.4 603.0,837.5 610.0,850.7 617.0,854.6 624.0,858.1 631.0,864.0 638.0,859.2 645.0,859.3 652.0,845.1 659.0,831.6 666.0,816.8 673.0,802.0 680.0,796.6 687.0,797.7 694.0,797.7 701.0,796.3 708.0,796.3 715.0,800.0 722.0,806.5 729.0,805.4 736.0,806.3 743.0,809.6 750.0,807.8 757.0,810.4 764.0,813.2 771.0,805.4 778.0,798.8 785.0,797.4 792.0,794.3 799.0,786.6 806.0,778.6 813.0,777.1 820.0,762.7 827.0,756.0" fill="none" stroke="#000" stroke-width="1" shape-rendering="crispEdges"/>
<line x1="183.5" y1="927" x2="183.5" y2="931" stroke="#c9d0d9"/>
<text x="185.0" y="939" class="dt">2025/02</text>
<line x1="323.5" y1="927" x2="323.5" y2="931" stroke="#c9d0d9"/>
<text x="325.0" y="939" class="dt">2025/03</text>
<line x1="470.5" y1="927" x2="470.5" y2="931" stroke="#c9d0d9"/>
<text x="472.0" y="939" class="dt">2025/04</text>
<line x1="618.5" y1="927" x2="618.5" y2="931" stroke="#c9d0d9"/>
<text x="620.0" y="939" class="dt">2025/05</text>
<line x1="772.5" y1="927" x2="772.5" y2="931" stroke="#c9d0d9"/>
<text x="774.0" y="939" class="dt">2025/06</text>
<text x="955" y="941" class="wm" fill="#b39a80" opacity="0.9">FX678</text>
<text x="954" y="940" class="wm" fill="#dbe8f8" stroke="#dbe8f8" stroke-width="0.5">FX678</text>
<g shape-rendering="crispEdges"><rect x="25" y="710" width="1" height="1" fill="#000"/><rect x="25" y="717" width="1" height="1" fill="#000"/><rect x="26" y="710" width="1" height="1" fill="#000"/><rect x="26" y="717" width="1" height="1" fill="#000"/><rect x="27" y="710" width="1" height="1" fill="#000"/><rect x="27" y="717" width="1" height="1" fill="#000"/><rect x="28" y="710" width="1" height="1" fill="#000"/><rect x="28" y="717" width="1" height="1" fill="#000"/><rect x="23" y="712" width="1" height="1" fill="#000"/><rect x="30" y="712" width="1" height="1" fill="#000"/><rect x="23" y="713" width="1" height="1" fill="#000"/><rect x="30" y="713" width="1" height="1" fill="#000"/><rect x="23" y="714" width="1" height="1" fill="#000"/><rect x="30" y="714" width="1" height="1" fill="#000"/><rect x="23" y="715" width="1" height="1" fill="#000"/><rect x="30" y="715" width="1" height="1" fill="#000"/><rect x="24" y="711" width="1" height="1" fill="#000"/><rect x="29" y="711" width="1" height="1" fill="#000"/><rect x="24" y="716" width="1" height="1" fill="#000"/><rect x="29" y="716" width="1" height="1" fill="#000"/><rect x="26" y="712" width="1" height="1" fill="#f00"/><rect x="26" y="715" width="1" height="1" fill="#f00"/><rect x="27" y="712" width="1" height="1" fill="#f00"/><rect x="27" y="715" width="1" height="1" fill="#f00"/><rect x="25" y="713" width="1" height="1" fill="#f00"/><rect x="26" y="713" width="1" height="1" fill="#f00"/><rect x="27" y="713" width="1" height="1" fill="#f00"/><rect x="28" y="713" width="1" height="1" fill="#f00"/><rect x="25" y="714" width="1" height="1" fill="#f00"/><rect x="26" y="714" width="1" height="1" fill="#f00"/><rect x="27" y="714" width="1" height="1" fill="#f00"/><rect x="28" y="714" width="1" height="1" fill="#f00"/><rect x="26" y="707" width="1" height="1" fill="#f00"/><rect x="26" y="708" width="1" height="1" fill="#f00"/><rect x="26" y="719" width="1" height="1" fill="#f00"/><rect x="26" y="720" width="1" height="1" fill="#f00"/><rect x="20" y="713" width="1" height="1" fill="#f00"/><rect x="21" y="713" width="1" height="1" fill="#f00"/><rect x="32" y="713" width="1" height="1" fill="#f00"/><rect x="33" y="713" width="1" height="1" fill="#f00"/><rect x="21" y="708" width="1" height="1" fill="#f00"/><rect x="22" y="709" width="1" height="1" fill="#f00"/><rect x="32" y="708" width="1" height="1" fill="#f00"/><rect x="31" y="709" width="1" height="1" fill="#f00"/><rect x="22" y="718" width="1" height="1" fill="#f00"/><rect x="21" y="719" width="1" height="1" fill="#f00"/><rect x="31" y="718" width="1" height="1" fill="#f00"/><rect x="32" y="719" width="1" height="1" fill="#f00"/></g>
<text x="90" y="720.5" class="lg" fill="#111" letter-spacing="0.22">MACD(13,8,9)</text><text x="173.5" y="720.5" class="lg" fill="#111">DIFF:0.98</text><text x="233" y="720.5" class="lg" fill="#1a1aa6">DEA:0.55</text><text x="291.5" y="720.5" class="lg" fill="#ff00ff" letter-spacing="0.2">MACD:0.86</text>
</svg>
<div id="tb"><svg width="1082" height="25" style="position:absolute;left:0;top:0"><rect width="1082" height="24" fill="#e8e9f1"/><rect y="24" width="1082" height="1" fill="#cdd0d9"/><rect x="68" y="0" width="1" height="25" fill="#f3f4f8"/><rect x="69" y="0" width="1" height="24" fill="#d2d4dd"/><rect x="139" y="0" width="1" height="25" fill="#f3f4f8"/><rect x="140" y="0" width="1" height="24" fill="#d2d4dd"/><rect x="206" y="0" width="1" height="25" fill="#f3f4f8"/><rect x="207" y="0" width="1" height="24" fill="#d2d4dd"/><rect x="253" y="0" width="1" height="25" fill="#f3f4f8"/><rect x="254" y="0" width="1" height="24" fill="#d2d4dd"/><rect x="300" y="0" width="1" height="25" fill="#f3f4f8"/><rect x="301" y="0" width="1" height="24" fill="#d2d4dd"/><rect x="347" y="0" width="1" height="25" fill="#f3f4f8"/><rect x="348" y="0" width="1" height="24" fill="#d2d4dd"/><rect x="394" y="0" width="1" height="25" fill="#f3f4f8"/><rect x="395" y="0" width="1" height="24" fill="#d2d4dd"/><rect x="422" y="0" width="1" height="25" fill="#f3f4f8"/><rect x="423" y="0" width="1" height="24" fill="#d2d4dd"/><rect x="450" y="0" width="1" height="25" fill="#f3f4f8"/><rect x="451" y="0" width="1" height="24" fill="#d2d4dd"/><rect x="478" y="0" width="1" height="25" fill="#f3f4f8"/><rect x="479" y="0" width="1" height="24" fill="#d2d4dd"/><rect x="506" y="0" width="1" height="25" fill="#f3f4f8"/><rect x="507" y="0" width="1" height="24" fill="#d2d4dd"/><rect x="534" y="0" width="1" height="25" fill="#f3f4f8"/><rect x="535" y="0" width="1" height="24" fill="#d2d4dd"/><rect x="562" y="0" width="1" height="25" fill="#f3f4f8"/><rect x="563" y="0" width="1" height="24" fill="#d2d4dd"/><rect x="590" y="0" width="1" height="25" fill="#f3f4f8"/><rect x="591" y="0" width="1" height="24" fill="#d2d4dd"/><rect x="618" y="0" width="1" height="25" fill="#f3f4f8"/><rect x="619" y="0" width="1" height="24" fill="#d2d4dd"/><rect x="646" y="0" width="1" height="25" fill="#f3f4f8"/><rect x="647" y="0" width="1" height="24" fill="#d2d4dd"/><rect x="674" y="0" width="1" height="25" fill="#f3f4f8"/><rect x="675" y="0" width="1" height="24" fill="#d2d4dd"/><rect x="745" y="0" width="1" height="25" fill="#f3f4f8"/><rect x="746" y="0" width="1" height="24" fill="#d2d4dd"/><rect x="773" y="0" width="1" height="25" fill="#f3f4f8"/><rect x="774" y="0" width="1" height="24" fill="#d2d4dd"/><rect x="820" y="0" width="1" height="25" fill="#f3f4f8"/><rect x="821" y="0" width="1" height="24" fill="#d2d4dd"/><rect x="867" y="0" width="1" height="25" fill="#f3f4f8"/><rect x="868" y="0" width="1" height="24" fill="#d2d4dd"/><rect x="914" y="0" width="1" height="25" fill="#f3f4f8"/><rect x="915" y="0" width="1" height="24" fill="#d2d4dd"/><rect x="941" y="0" width="1" height="25" fill="#f3f4f8"/><rect x="942" y="0" width="1" height="24" fill="#d2d4dd"/><rect x="969" y="0" width="1" height="25" fill="#f3f4f8"/><rect x="970" y="0" width="1" height="24" fill="#d2d4dd"/><rect x="1046" y="0" width="1" height="25" fill="#f3f4f8"/><rect x="1047" y="0" width="1" height="24" fill="#d2d4dd"/>
<path d="M12 10.8 18.2 5.3v3.2c4.8 0 8 2.6 8 8.3-1.6-3-4-3.9-8-3.9v3.4z" fill="#2f3742"/>
<path d="M89.5 5 96.3 11.6h-1.8V18h-3.6v-4.2h-2.8V18H84.5v-6.4h-1.8z" fill="#2f3742"/>
<path d="M176.8 16.9A6.4 6.4 0 1 1 179.9 10.3" fill="none" stroke="#2f3742" stroke-width="1.8"/>
<path d="M177.6 10.6h5.4l-2.6 3.9z" fill="#2f3742"/>
<path d="M221.1 18.9v-2.7l2.8-2.4v5.1zM226.1 18.9v-8.5l1.4-1 1.4 1v8.5zM231.1 18.9v-4.5l2.8-2.3v6.8zM236.1 18.9v-9.8l2.8-2.2v12z" fill="#2f3742"/>
<path d="M221.1 12.6 227.4 6.6 231.4 10.5 238.6 4.2" fill="none" stroke="#2f3742" stroke-width="1.6"/>
<path d="M268.9 7.8v7.3M274.2 4.1v14.5M279.6 8v9.7M285 6.1v11.6" stroke="#2f3742" stroke-width="1.1"/>
<rect x="267.1" y="8.7" width="3.7" height="5.3" rx="0.5" fill="#2f3742"/>
<rect x="272.3" y="6.4" width="3.6" height="7.1" rx="0.5" fill="#2f3742"/>
<rect x="278" y="10.9" width="3.5" height="3.7" rx="0.5" fill="#2f3742"/>
<rect x="283.2" y="10.2" width="3.6" height="3.6" rx="0.5" fill="#2f3742"/>
<path d="M690 6h13M690 11.5h13M690 16.7h13" stroke="#2f3742" stroke-width="2.2" stroke-linecap="round"/>
<path d="M760 4.9C759.3 3.6 758.3 3.3 757.6 3.5 756.4 3.9 755.9 5.2 755.7 7.5L754.8 15.2C754.6 17 753.6 17.8 751.6 17.3" fill="none" stroke="#2f3742" stroke-width="1.8" stroke-linecap="round"/>
<path d="M753.3 9.5h4.5" stroke="#2f3742" stroke-width="1.6"/>
<path d="M760.6 11.5l5.8 5.6M766.4 11.5l-5.8 5.6" stroke="#2f3742" stroke-width="1.9" stroke-linecap="round"/>
<circle cx="797.1" cy="10.9" r="6.4" fill="none" stroke="#3a414b" stroke-width="1.2"/>
<path d="M794 10.6h6M801.9 15.8l2.8 2.8" stroke="#3a414b" stroke-width="1.2"/>
<path d="M801.9 15.8l2.8 2.8" stroke="#3a414b" stroke-width="1.5" stroke-linecap="round"/>
<circle cx="844.1" cy="10.9" r="6.4" fill="none" stroke="#3a414b" stroke-width="1.2"/>
<path d="M841.1 10.6h6.4M844.3 7.4v6.4" stroke="#3a414b" stroke-width="1.2"/>
<path d="M848.9 15.8l2.8 2.8" stroke="#3a414b" stroke-width="1.5" stroke-linecap="round"/>
<path d="M886.2 16.4 887.3 13.3 893.5 7.1 895.3 8.8 889.3 15.1z" fill="#2f3742"/>
<path d="M894.4 5.4 895.5 4.2 897.7 6.3 896.5 7.5z" fill="#2f3742"/>
<path d="M884 18.4h15" stroke="#2f3742" stroke-width="1.3"/>
<path d="M919 4.3h19" stroke="#3a3f48" stroke-width="1.2"/>
<path d="M919 19.5 928.4 8.3 937.8 19.5" fill="none" stroke="#3a3f48" stroke-width="1.2" stroke-linejoin="round"/>
<path d="M919 19.5h18.8" stroke="#8a8d94" stroke-width="1.6"/>
<path d="M947 4 956.4 15.3 965.8 4" fill="none" stroke="#3a3f48" stroke-width="1.2" stroke-linejoin="round"/>
<path d="M947 4h18.8" stroke="#8a8d94" stroke-width="1.6"/>
<path d="M947 19.4h19" stroke="#3a3f48" stroke-width="1.2"/>
<circle cx="1067" cy="11.3" r="5.2" fill="none" stroke="#2f3742" stroke-width="2"/>
<path d="M1066 14.5c-2.5-1-2.7-4.4-.3-5.3 1.7-.6 3.3.9 2.6 2.4" fill="none" stroke="#2f3742" stroke-width="1.5"/>
</svg><span style="left:28px">返回</span><span style="left:99.5px">首页</span><span style="left:311px;top:4px;font-size:16px;letter-spacing:0.3px">tick</span><span style="left:360.5px">5日</span><span style="left:404.5px">5</span><span style="left:428.5px">15</span><span style="left:456.5px">30</span><span style="left:484.5px">60</span><span style="left:511.5px">2H</span><span style="left:539px">4H</span><span style="left:570.5px">日</span><span style="left:597.5px">周</span><span style="left:625px">月</span><span style="left:654px">年</span><span style="left:706px">更多</span><span style="left:977px;font-weight:bold;font-size:15px;top:4.5px;color:#2f3742">$</span><span style="left:988.5px;letter-spacing:-0.3px">模拟交易</span><span style="left:1077px">汇</span></div>
<div id="sb">
<div class="s" style="height:51px;padding-top:5.5px">分<br>时<br>图</div>
<div class="s" style="height:47px;padding-top:3px;background:#ff6600;color:#fff"><span style="font-family:'Liberation Serif',serif;font-size:12px;position:relative;top:1px">K</span><br>线<br>图</div>
<div class="s" style="height:52px;padding-top:5.5px">闪<br>电<br>图</div>
<div class="s" style="height:64px;padding-top:6.5px">合<br>约<br>资<br>料</div>
</div>
<div id="vl"></div>
<div id="leg"><span style="left:0">美原油连续</span><span style="left:59px;color:#f47a14">【日线】</span><span style="left:140px;letter-spacing:0.2px">MA1(50,0,200,0)</span><span style="left:237px">MA50:61.98</span><span style="left:312.5px;color:#1a1aa6">MA0:67.81</span><span style="left:382px;color:#ff00ff">MA200:68.51</span><span style="left:465px;color:#f47a14">MA0:67.81</span></div>
<div id="dbx">日线 ▲</div>
<div id="tabs">
<div class="t" style="left:0;width:39px;background:#ff6600;color:#fff;font-family:'Liberation Sans',sans-serif;font-size:13px">指标</div>
<div class="t" style="left:39px;width:41px;font-family:'Liberation Sans',sans-serif;font-size:13px">模板</div>
<div class="t" style="left:80px;width:58px;color:#f47a14">VIP<span style="font-family:'Liberation Sans',sans-serif;font-size:13px">指标</span></div>
<div class="t" style="left:138px;width:28px">MA</div>
<div class="t" style="left:166px;width:40px">MACD</div>
<div class="t" style="left:206px;width:40px">BOLL</div>
<div class="t" style="left:246px;width:34px">VOL</div>
<div class="t" style="left:280px;width:40px">BIAS</div>
<div class="t" style="left:320px;width:34px">CCI</div>
<div class="t" style="left:354px;width:33px">KDJ</div>
<div class="t" style="left:387px;width:40px">LW&amp;</div>
<div class="t" style="left:427px;width:34px">RSI</div>
<div class="t" style="left:461px;width:29px">CR</div>
<div class="t" style="left:490px;width:34px">PSY</div>
<div class="t" style="left:524px;width:40px;font-family:'Liberation Sans',sans-serif;font-size:13px">设置</div>
</div>
<div id="scr"></div>
</body></html>
